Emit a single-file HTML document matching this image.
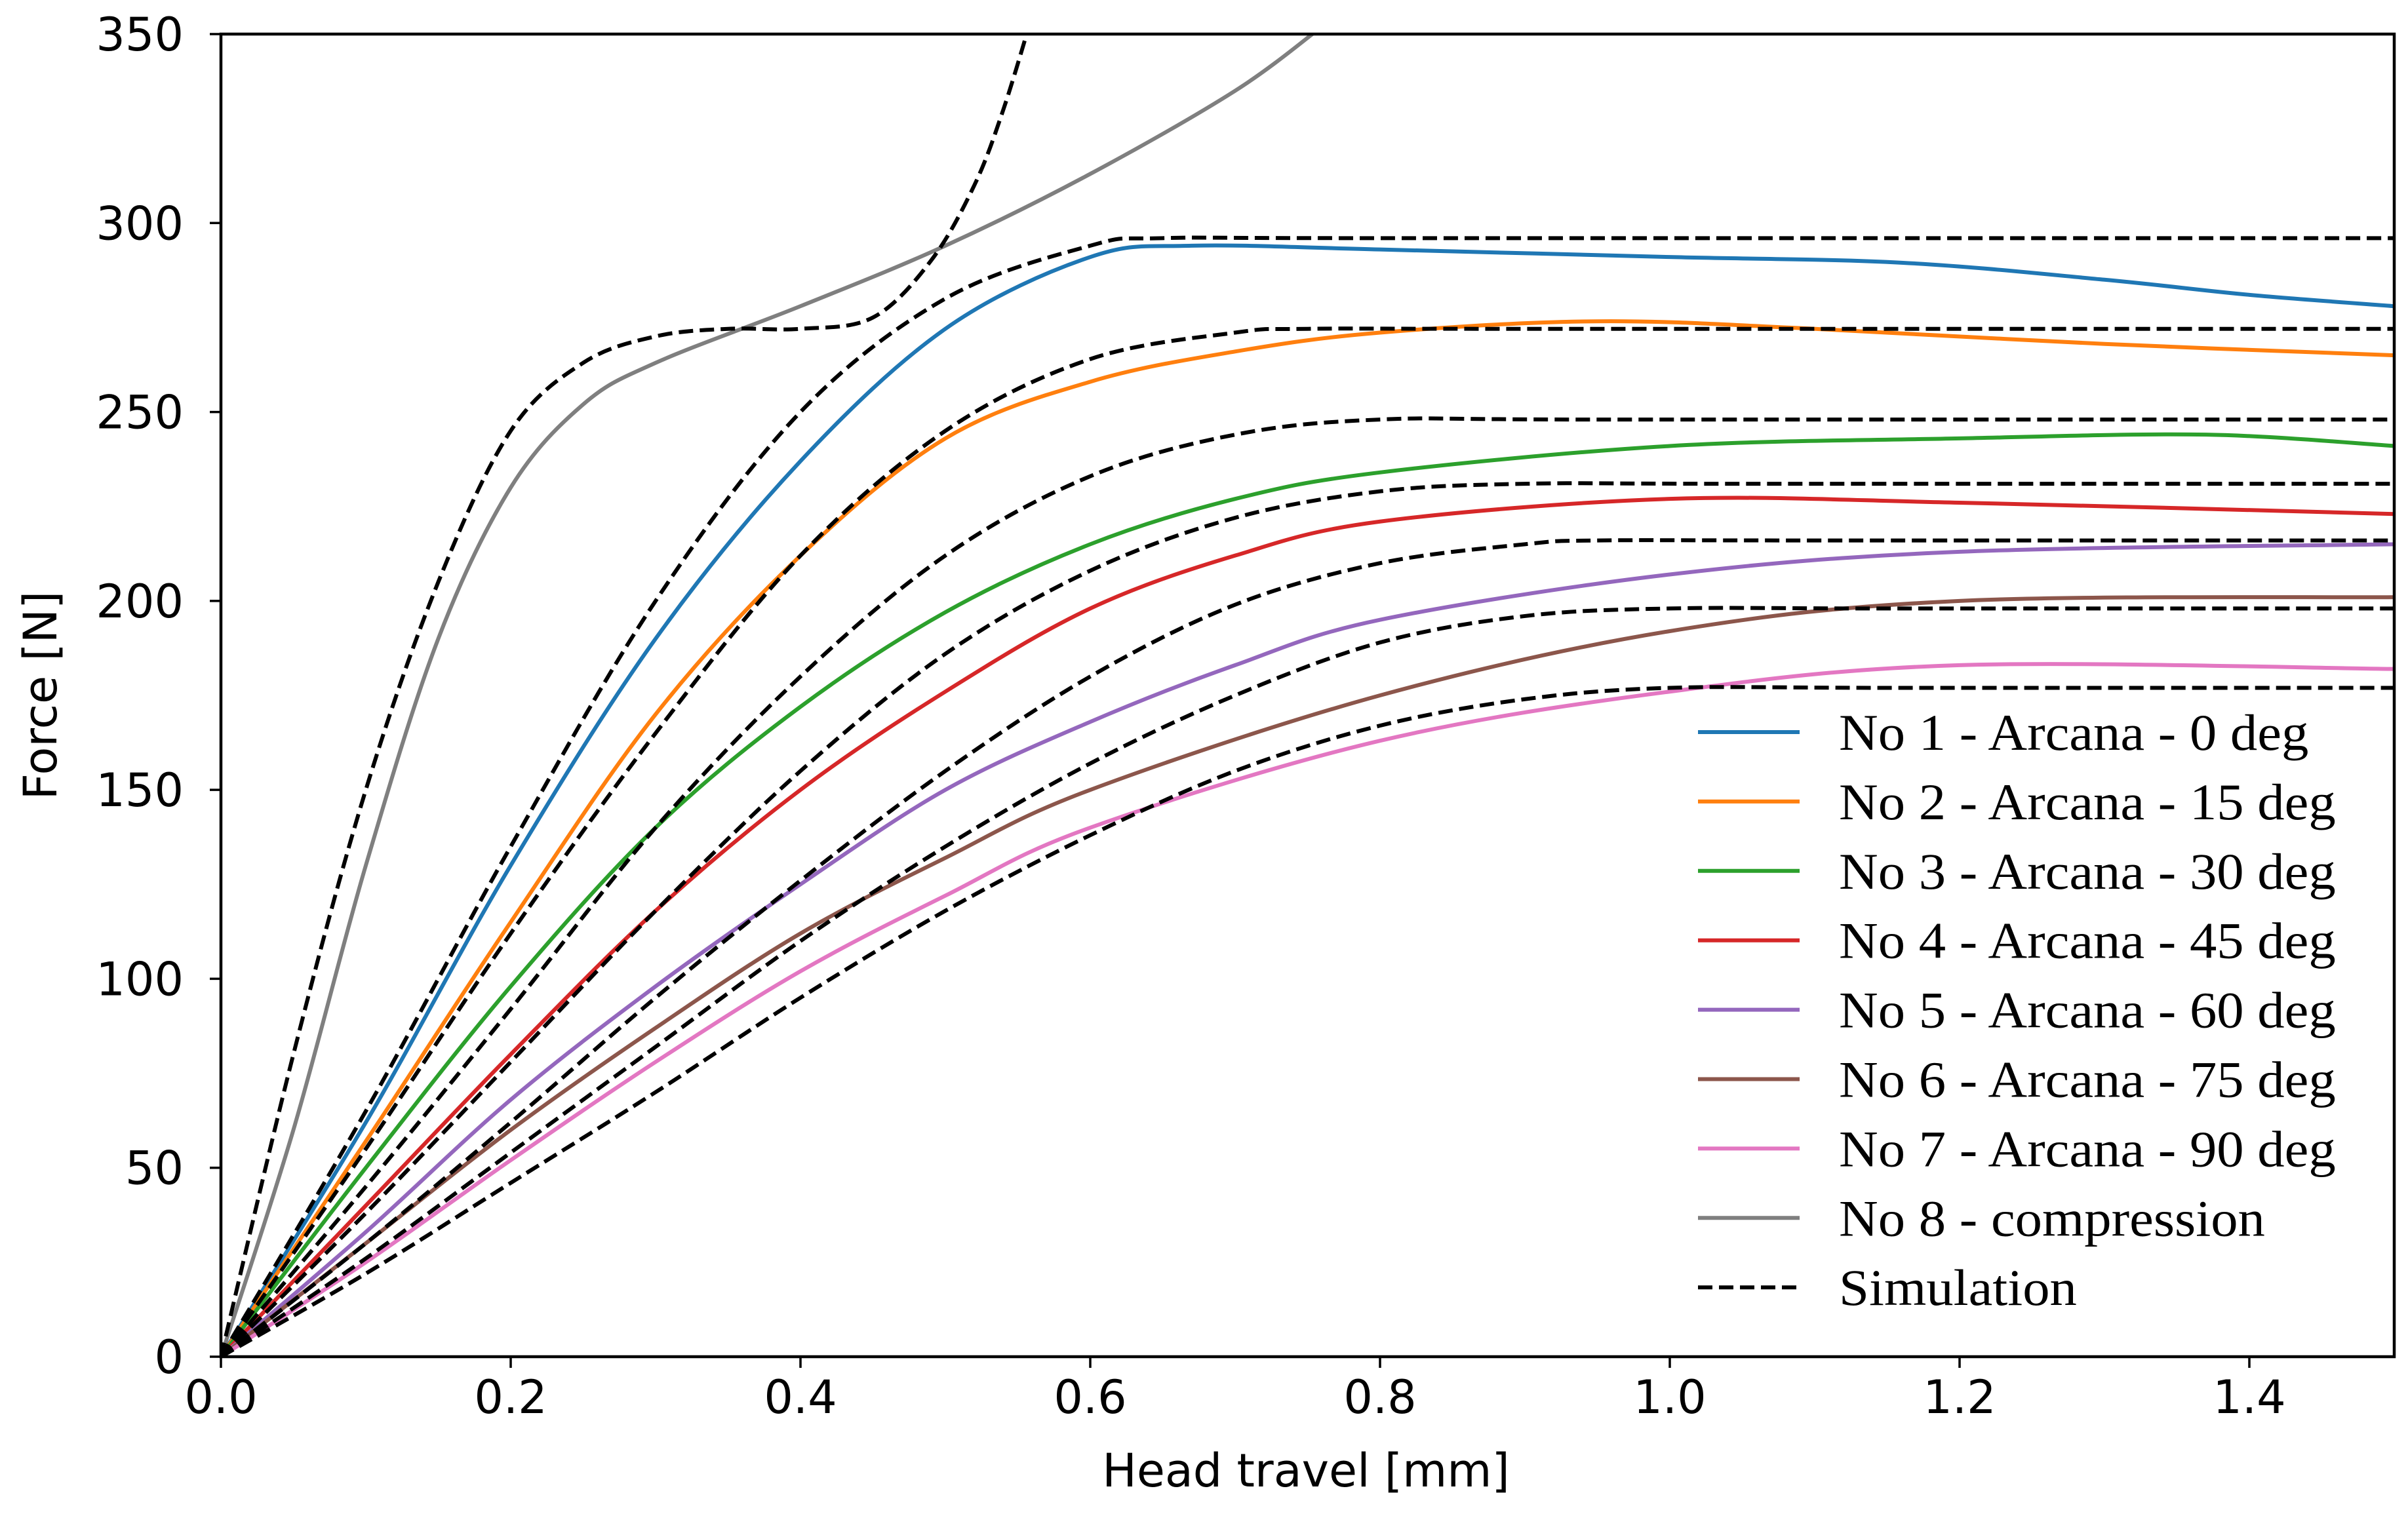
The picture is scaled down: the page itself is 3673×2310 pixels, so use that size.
<!DOCTYPE html>
<html><head><meta charset="utf-8"><style>
html,body{margin:0;padding:0;background:#fff;}
svg{display:block;}
</style></head><body>
<svg id="chart" width="3673" height="2310" viewBox="0 0 3673 2310" xmlns="http://www.w3.org/2000/svg">
<defs><clipPath id="plotclip"><rect x="337" y="52" width="3315" height="2018"/></clipPath></defs>
<rect width="3673" height="2310" fill="#fff"/>
<g id="series" clip-path="url(#plotclip)"></g>
<g id="axes"></g>
<g id="legend"></g>
</svg>
<script>
const xTicks = [0.0,0.2,0.4,0.6,0.8,1.0,1.2,1.4];
const yTicks = [0,50,100,150,200,250,300,350];
const xLabels = ["0.0","0.2","0.4","0.6","0.8","1.0","1.2","1.4"];
const yLabels = ["0","50","100","150","200","250","300","350"];
const seriesNames = ["No 1 - Arcana - 0 deg","No 2 - Arcana - 15 deg","No 3 - Arcana - 30 deg","No 4 - Arcana - 45 deg","No 5 - Arcana - 60 deg","No 6 - Arcana - 75 deg","No 7 - Arcana - 90 deg","No 8 - compression"];
const seriesColors = ["#1f77b4","#ff7f0e","#2ca02c","#d62728","#9467bd","#8c564b","#e377c2","#7f7f7f"];
const exp1 = [[0,0],[0.1,62],[0.2,130],[0.3,190],[0.4,237],[0.5,272],[0.6,291],[0.67,294],[0.8,293],[1.0,291],[1.16,289.5],[1.3,285],[1.4,281],[1.5,278]];
const exp2 = [[0,0],[0.1,57],[0.2,115],[0.3,170],[0.4,212],[0.5,243],[0.6,258],[0.7,266],[0.8,271],[0.95,274],[1.1,272],[1.3,268],[1.5,265]];
const exp3 = [[0,0],[0.1,50],[0.2,98],[0.3,140],[0.4,172],[0.5,197],[0.6,215],[0.7,227],[0.8,234],[1.0,241],[1.2,243],[1.37,244],[1.5,241]];
const exp4 = [[0,0],[0.1,40],[0.2,80],[0.3,118],[0.4,150],[0.5,176],[0.6,198],[0.7,212],[0.8,221],[1.0,227],[1.2,226],[1.5,223]];
const exp5 = [[0,0],[0.1,33],[0.2,68],[0.3,98],[0.4,125],[0.5,150],[0.6,168],[0.7,183],[0.8,195],[1.0,207],[1.2,213],[1.5,215]];
const exp6 = [[0,0],[0.1,30],[0.2,60],[0.3,87],[0.4,112],[0.5,132],[0.6,150],[0.8,175],[1.0,192],[1.2,200],[1.5,201]];
const exp7 = [[0,0],[0.1,25],[0.2,52],[0.3,78],[0.4,102],[0.5,122],[0.6,140],[0.8,163],[1.0,176],[1.2,183],[1.5,182]];
const exp8 = [[0,0],[0.05,60],[0.1,130],[0.15,190],[0.2,230],[0.25,252],[0.3,263],[0.4,278],[0.5,294],[0.6,313],[0.7,335],[0.76,352]];
const sim1 = [[0,0],[0.1,65],[0.2,135],[0.3,200],[0.4,250],[0.5,280],[0.6,294],[0.65,296],[0.8,296],[1.5,296]];
const sim2 = [[0,0],[0.1,55],[0.2,112],[0.3,165],[0.4,212],[0.5,245],[0.6,264],[0.7,271],[0.75,272],[0.9,272],[1.5,272]];
const sim3 = [[0,0],[0.1,45],[0.2,92],[0.3,140],[0.4,180],[0.5,212],[0.6,233],[0.7,244],[0.8,248],[0.95,248],[1.5,248]];
const sim4 = [[0,0],[0.1,38],[0.2,78],[0.3,118],[0.4,155],[0.5,186],[0.6,208],[0.7,222],[0.8,229],[0.9,231],[1.05,231],[1.5,231]];
const sim5 = [[0,0],[0.1,30],[0.2,62],[0.3,95],[0.4,126],[0.5,155],[0.6,180],[0.7,199],[0.8,210],[0.9,215],[0.95,216],[1.1,216],[1.5,216]];
const sim6 = [[0,0],[0.1,26],[0.2,54],[0.3,82],[0.4,110],[0.5,135],[0.6,157],[0.7,175],[0.8,189],[0.9,196],[1.0,198],[1.15,198],[1.5,198]];
const sim7 = [[0,0],[0.1,22],[0.2,46],[0.3,70],[0.4,95],[0.5,118],[0.6,138],[0.7,155],[0.8,167],[0.9,174],[1.0,177],[1.15,177],[1.5,177]];
const sim8 = [[0,0],[0.05,80],[0.1,150],[0.15,205],[0.2,245],[0.25,263],[0.3,270],[0.35,272],[0.4,272],[0.45,275],[0.49,290],[0.52,310],[0.54,330],[0.56,355]];

const NS="http://www.w3.org/2000/svg";
const X0=337, X1=3652, Y0=2070, Y1=52;
function xs(v){return X0+(v/1.5)*(X1-X0);}
function ys(v){return Y0-(v/350)*(Y0-Y1);}
function mk(tag,attrs,parent){const e=document.createElementNS(NS,tag);for(const k in attrs)e.setAttribute(k,attrs[k]);parent.appendChild(e);return e;}
function pathD(data){
  const p=data.map(d=>[xs(d[0]),ys(d[1])]);
  let d="M"+p[0][0]+","+p[0][1];
  for(let i=0;i<p.length-1;i++){
    const a=p[Math.max(i-1,0)],b=p[i],c=p[i+1],e=p[Math.min(i+2,p.length-1)];
    const c1=[b[0]+(c[0]-a[0])/6,b[1]+(c[1]-a[1])/6];
    const c2=[c[0]-(e[0]-b[0])/6,c[1]-(e[1]-b[1])/6];
    d+=" C"+c1[0]+","+c1[1]+" "+c2[0]+","+c2[1]+" "+c[0]+","+c[1];
  }
  return d;
}
const sg=document.getElementById("series");
const exps=[exp1,exp2,exp3,exp4,exp5,exp6,exp7,exp8];
const sims=[sim1,sim2,sim3,sim4,sim5,sim6,sim7,sim8];
exps.forEach((s,i)=>{
  const el=mk("path",{d:pathD(s),fill:"none",stroke:seriesColors[i],"stroke-width":6},sg);
  
  
});
sims.forEach((s,i)=>{
  const el=mk("path",{d:pathD(s),fill:"none",stroke:"#000","stroke-width":6,"stroke-dasharray":"22 10"},sg);
  
  
});
const ax=document.getElementById("axes");
const frame=mk("rect",{x:X0,y:Y1,width:X1-X0,height:Y0-Y1,fill:"none",stroke:"#000","stroke-width":4.5},ax);


const tf='font-family:"DejaVu Sans","Liberation Sans",sans-serif;font-size:70px;';
xTicks.forEach((v,i)=>{
  const t=mk("line",{x1:xs(v),x2:xs(v),y1:Y0,y2:Y0+17,stroke:"#000","stroke-width":3.5},ax);
  
  
  const l=mk("text",{x:xs(v),y:Y0+86,"text-anchor":"middle",style:tf},ax);
  l.textContent=xLabels[i];
  
  
});
yTicks.forEach((v,i)=>{
  const t=mk("line",{x1:X0-17,x2:X0,y1:ys(v),y2:ys(v),stroke:"#000","stroke-width":3.5},ax);
  
  
  const l=mk("text",{x:280,y:ys(v)+25,"text-anchor":"end",style:tf},ax);
  l.textContent=yLabels[i];
  
  
});
const xt=mk("text",{x:1992,y:2268,"text-anchor":"middle",style:tf},ax);
xt.textContent="Head travel [mm]";


const yt=mk("text",{x:0,y:0,"text-anchor":"middle",transform:"translate(86,1061) rotate(-90)",style:tf},ax);
yt.textContent="Force [N]";


const lg=document.getElementById("legend");
const lf='font-family:"Liberation Serif",serif;font-size:78px;';
const names=seriesNames.concat(["Simulation"]);
names.forEach((n,i)=>{
  const cy=1117+i*105.9;
  const ln=mk("line",{x1:2590,x2:2745,y1:cy,y2:cy,stroke:i<8?seriesColors[i]:"#000","stroke-width":6},lg);
  if(i===8) ln.setAttribute("stroke-dasharray","22 10");
  
  
  const t=mk("text",{x:2805,y:cy+27,style:lf},lg);
  t.textContent=n;
  
  
  const w=t.getComputedTextLength();
  if(w>0){t.setAttribute("textLength",(w*1.06).toFixed(1));t.setAttribute("lengthAdjust","spacingAndGlyphs");}
});
</script>
</body></html>
